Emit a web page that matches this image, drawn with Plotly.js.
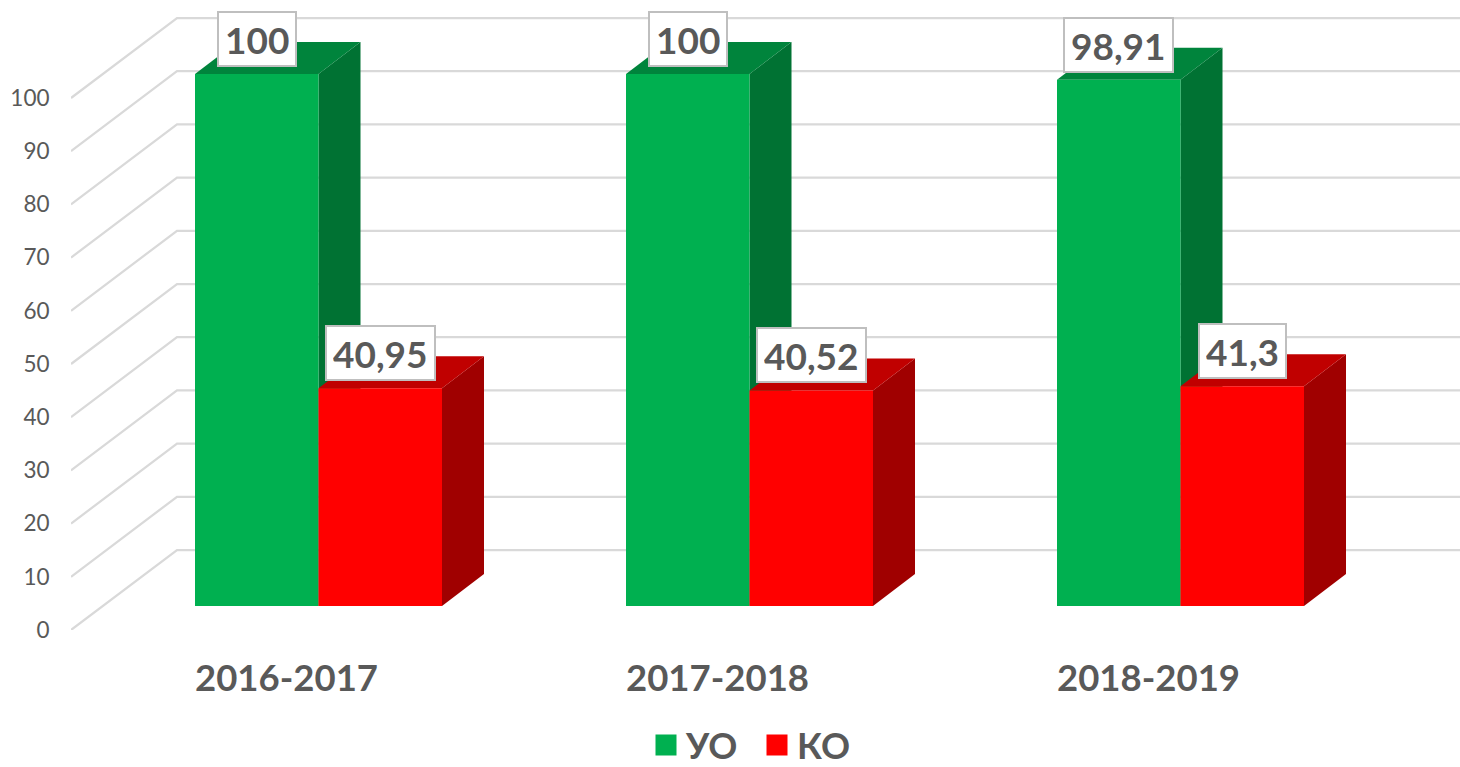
<!DOCTYPE html>
<html>
<head>
<meta charset="utf-8">
<script src="https://cdn.plot.ly/plotly-3.0.1.min.js"></script>
<style>html,body{margin:0;padding:0;background:#fff;overflow:hidden}#chart{width:1460px;height:767px}</style>
</head>
<body>
<div id="chart"></div>
<script>
// Data
const categories = ['2016-2017', '2017-2018', '2018-2019'];
const seriesUO = [100, 100, 98.91];
const seriesKO = [40.95, 40.52, 41.3];
const axisTicks = [0, 10, 20, 30, 40, 50, 60, 70, 80, 90, 100];

// Geometry of the pseudo-3D scene (x axis is in px-like units, y axis in value units)
const PX = 5.32;
const xMin = 71, xMax = 1460, xWallBack = 177;
const wallRise = 80 / PX;
const barBase = 24 / PX;
const barDepthX = 42, barDepthY = 32 / PX;
const groupStart = [195, 626, 1057];
const barW = 123.5;
const tickShift = 91.5;

const TXT = '#595959', FONT = 'Lato, "Open Sans", sans-serif';
const colors = {
  UO: {front: '#00B050', side: '#007233', top: '#00843C'},
  KO: {front: '#FF0000', side: '#A00000', top: '#C00000'}
};

function poly(pts) {
  return 'M' + pts.map(p => p[0] + ',' + p[1]).join('L') + 'Z';
}
function faces(x0, v, c) {
  const x1 = x0 + barW, yb = barBase, yt = barBase + v;
  const face = (path, fill) => ({type: 'path', layer: 'below', xref: 'x', yref: 'y', path: path,
    fillcolor: fill, line: {width: 0}});
  return [
    face(poly([[x1, yb], [x1 + barDepthX, yb + barDepthY], [x1 + barDepthX, yt + barDepthY], [x1, yt]]), c.side),
    face(poly([[x0, yt], [x1, yt], [x1 + barDepthX, yt + barDepthY], [x0 + barDepthX, yt + barDepthY]]), c.top)
  ];
}

const shapes = [];
axisTicks.forEach(v => {
  shapes.push({type: 'path', layer: 'below', xref: 'x', yref: 'y',
    path: 'M' + xMin + ',' + v + 'L' + xWallBack + ',' + (v + wallRise) + 'L' + xMax + ',' + (v + wallRise),
    line: {color: '#D9D9D9', width: 2.25}});
});
groupStart.forEach((g, i) => { shapes.push(...faces(g, seriesUO[i], colors.UO)); });
groupStart.forEach((g, i) => { shapes.push(...faces(g + barW, seriesKO[i], colors.KO)); });

const uoX = groupStart.map(g => g + barW / 2);
const koX = groupStart.map(g => g + barW * 1.5);

const barTrace = (x, y, color) => ({
  type: 'bar', x: x, y: y, base: barBase, width: barW,
  marker: {color: color, line: {width: 0}},
  showlegend: false, hoverinfo: 'x+y'
});
const legendTrace = (name, color) => ({
  type: 'scatter', mode: 'markers', name: name, x: [null], y: [null],
  marker: {symbol: 'square', size: 16, color: color, line: {color: color, width: 5}}
});

const traces = [
  barTrace(uoX, seriesUO, colors.UO.front),
  barTrace(koX, seriesKO, colors.KO.front),
  legendTrace('УО', colors.UO.front),
  legendTrace('КО', colors.KO.front)
];

const labelOf = (x, v) => ({
  x: x, y: barBase + v, xref: 'x', yref: 'y', yshift: 35, showarrow: false,
  text: String(v).replace('.', ','),
  font: {family: FONT, size: 37, color: TXT, weight: 700},
  bgcolor: '#FFFFFF', bordercolor: '#BFBFBF', borderwidth: 2, borderpad: 6, height: 40,
  xanchor: 'center', yanchor: 'middle'
});
const annotations = [
  ...uoX.map((x, i) => labelOf(x, seriesUO[i])),
  ...koX.map((x, i) => labelOf(x, seriesKO[i]))
];

const layout = {
  width: 1460, height: 767,
  margin: {l: xMin, r: 0, t: 0, b: 137, autoexpand: false},
  paper_bgcolor: '#FFFFFF', plot_bgcolor: '#FFFFFF',
  barmode: 'overlay', showlegend: true,
  xaxis: {
    type: 'linear', range: [xMin, xMax], showgrid: false, zeroline: false, showline: false,
    tickmode: 'array', tickvals: groupStart.map(g => g + tickShift), ticktext: categories,
    ticks: 'outside', ticklen: 16, tickcolor: 'rgba(0,0,0,0)',
    tickfont: {family: FONT, size: 36.5, color: TXT, weight: 700}
  },
  yaxis: {
    type: 'linear', range: [0, 630 / PX], showgrid: false, zeroline: false, showline: false,
    tickmode: 'array', tickvals: axisTicks, ticktext: axisTicks.map(String),
    ticks: 'outside', ticklen: 16, tickcolor: 'rgba(0,0,0,0)',
    tickfont: {family: FONT, size: 22.5, color: TXT}
  },
  legend: {
    orientation: 'h', x: (757 - xMin) / (xMax - xMin), xanchor: 'center',
    y: -(745 - 630) / 630, yanchor: 'middle', entrywidth: 66, entrywidthmode: 'pixels',
    font: {family: FONT, size: 36, color: TXT, weight: 700}, bgcolor: 'rgba(0,0,0,0)'
  },
  shapes: shapes,
  annotations: annotations
};

Plotly.newPlot('chart', traces, layout, {displayModeBar: false, responsive: false});
</script>
</body>
</html>
